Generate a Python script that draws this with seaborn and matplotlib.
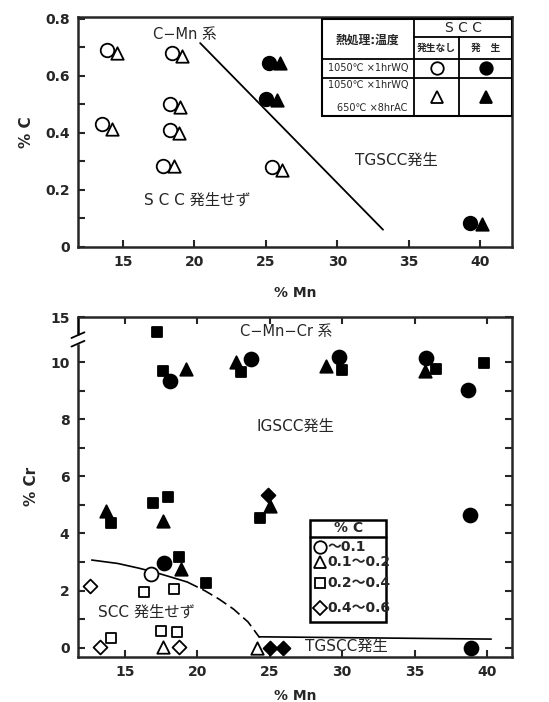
import numpy as np
import matplotlib
matplotlib.use("Agg")
import matplotlib.pyplot as plt
import matplotlib.transforms as mtrans
import seaborn as sns
import pandas as pd

# ---- top panel: C-Mn system (%Mn, %C) ----
wq_none_mn = [13.9, 18.4, 18.3, 13.5, 18.3, 17.8, 25.4]
wq_none_c = [0.69, 0.68, 0.50, 0.43, 0.41, 0.285, 0.28]
ac_none_mn = [14.6, 19.1, 19.0, 14.2, 18.9, 18.6, 26.1]
ac_none_c = [0.68, 0.67, 0.49, 0.415, 0.40, 0.285, 0.27]
wq_scc_mn = [25.2, 25.0, 39.3]
wq_scc_c = [0.645, 0.52, 0.085]
ac_scc_mn = [26.0, 25.8, 40.1]
ac_scc_c = [0.645, 0.515, 0.08]
border_mn = [20.4, 33.2]
border_c = [0.715, 0.06]

# ---- bottom panel: C-Mn-Cr system (%Mn, %Cr) ----
# filled = SCC, open = no SCC; marker = %C class
sq_f_mn = [17.2, 17.6, 23.0, 30.0, 36.5, 39.8, 16.9, 18.0, 14.0, 24.3, 18.7, 20.6]
sq_f_cr = [14.0, 9.71, 9.65, 9.73, 9.77, 9.97, 5.07, 5.28, 4.37, 4.56, 3.18, 2.25]
ci_f_mn = [18.1, 23.7, 29.8, 35.8, 38.7, 38.8, 17.7, 38.9]
ci_f_cr = [9.36, 10.12, 10.2, 10.15, 9.03, 4.64, 2.95, 0.0]
tr_f_mn = [13.7, 19.2, 22.7, 28.9, 35.7, 17.6, 18.9, 25.0]
tr_f_cr = [4.78, 9.77, 10.02, 9.88, 9.68, 4.43, 2.74, 4.95]
di_f_mn = [24.9, 25.0, 25.9]
di_f_cr = [5.36, 0.0, 0.0]
ci_o_mn = [16.8]
ci_o_cr = [2.58]
tr_o_mn = [17.6, 24.15]
tr_o_cr = [0.04, 0.0]
sq_o_mn = [16.3, 18.4, 14.05, 17.5, 18.6]
sq_o_cr = [1.96, 2.04, 0.35, 0.58, 0.56]
di_o_mn = [12.6, 13.3, 18.7]
di_o_cr = [2.16, 0.04, 0.04]

curve_mn = [12.7, 14.5, 16.0, 17.0, 18.0, 19.3]
curve_cr = [3.07, 2.95, 2.78, 2.65, 2.5, 2.3]
dash_mn = [19.3, 20.5, 21.5, 22.5, 23.5, 24.3]
dash_cr = [2.3, 2.0, 1.7, 1.35, 0.9, 0.35]
tg_mn = [24.3, 40.3]
tg_cr = [0.38, 0.3]

c_classes = ["～0.1", "0.1～0.2", "0.2～0.4", "0.4～0.6"]


def cr_to_plot(v):
    # broken axis above 10: 15 sits at the top edge
    v = np.asarray(v, dtype=float)
    return np.where(v <= 10.5, v, 11.57 - (15 - v) * 0.5)


sns.set_style("ticks")
plt.rcParams['font.family'] = ['DejaVu Sans', 'Noto Sans CJK JP']
plt.rcParams['axes.linewidth'] = 1.8

fig = plt.figure(figsize=(5.49, 7.02), dpi=100)
ax1 = fig.add_axes([0.142, 0.648, 0.791, 0.328])
ax2 = fig.add_axes([0.142, 0.064, 0.791, 0.485])

# ================= top =================
top_groups = [
    (wq_none_mn, wq_none_c, "o", "white", 95),
    (ac_none_mn, ac_none_c, "^", "white", 80),
    (wq_scc_mn, wq_scc_c, "o", "black", 95),
    (ac_scc_mn, ac_scc_c, "^", "black", 80),
]
for mn, c, mk, fc, s in top_groups:
    df = pd.DataFrame({"Mn": mn, "C": c})
    sns.scatterplot(data=df, x="Mn", y="C", marker=mk, s=s, color=fc,
                    edgecolor="black", linewidth=1.3, ax=ax1, zorder=3)
sns.lineplot(x=border_mn, y=border_c, color="black", lw=1.3, ax=ax1, sort=False)

ax1.set_xlim(11.85, 42.24)
ax1.set_ylim(-0.001, 0.807)
ax1.set_xticks([15, 20, 25, 30, 35, 40])
ax1.set_yticks([0, 0.2, 0.4, 0.6, 0.8])
ax1.set_yticklabels(["0", "0.2", "0.4", "0.6", "0.8"])
ax1.set_yticks(np.arange(0.1, 0.8, 0.2), minor=True)
ax1.tick_params(direction="in", length=5, width=1.5, labelsize=10, pad=6)
ax1.tick_params(which="minor", direction="in", length=5, width=1.5)
for lab in ax1.get_xticklabels() + ax1.get_yticklabels():
    lab.set_fontweight("bold")
ax1.set_xlabel("% Mn", fontsize=10, fontweight="bold", labelpad=12)
ax1.set_ylabel("% C", fontsize=11, fontweight="bold", labelpad=8)

ax1.text(19.3, 0.745, "C−Mn 系", fontsize=10.5, ha="center", va="center")
ax1.text(20.2, 0.165, "S C C 発生せず", fontsize=11, ha="center", va="center")
ax1.text(34.1, 0.305, "TGSCC発生", fontsize=11, ha="center", va="center")

# heat-treatment table
T = ax1.transAxes
x0, x1, x2, x3 = 0.561, 0.774, 0.878, 1.0
y0, y1, y2, y3, y4 = 0.991, 0.913, 0.817, 0.735, 0.57
ax1.add_patch(plt.Rectangle((x0, y4), x3 - x0, y0 - y4, transform=T,
                            facecolor="white", edgecolor="black", lw=1.5, zorder=4))
lk = dict(transform=T, color="black", lw=1.3, zorder=5)
ax1.plot([x1, x1], [y4, y0], **lk)
ax1.plot([x2, x2], [y4, y1], **lk)
ax1.plot([x1, x3], [y1, y1], **lk)
ax1.plot([x0, x3], [y2, y2], **lk)
ax1.plot([x0, x3], [y3, y3], **lk)
tk = dict(transform=T, ha="center", va="center", zorder=6)
ax1.text((x0 + x1) / 2, 0.9, "熱処理:温度", fontsize=8.5, fontweight="bold", **tk)
ax1.text((x1 + x3) / 2, 0.952, "S C C", fontsize=10, **tk)
ax1.text((x1 + x2) / 2, 0.865, "発生なし", fontsize=7, fontweight="bold", **tk)
ax1.text((x2 + x3) / 2, 0.865, "発　生", fontsize=7, fontweight="bold", **tk)
ax1.text((x0 + x1) / 2, 0.776, "1050℃ ×1hrWQ", fontsize=7, **tk)
ax1.text((x0 + x1) / 2, 0.704, "1050℃ ×1hrWQ", fontsize=7, **tk)
ax1.text((x0 + x1) / 2 + 0.01, 0.603, "650℃ ×8hrAC", fontsize=7, **tk)
mk = dict(transform=T, ls="none", mec="black", mew=1.3, zorder=6)
ax1.plot([(x1 + x2) / 2], [0.776], "o", ms=9, mfc="white", **mk)
ax1.plot([(x2 + x3) / 2], [0.776], "o", ms=9, mfc="black", **mk)
ax1.plot([(x1 + x2) / 2], [0.652], "^", ms=9, mfc="white", **mk)
ax1.plot([(x2 + x3) / 2], [0.652], "^", ms=9, mfc="black", **mk)

# ================= bottom =================
bot_groups = [
    (ci_f_mn, ci_f_cr, "o", "black", 100),
    (tr_f_mn, tr_f_cr, "^", "black", 80),
    (sq_f_mn, sq_f_cr, "s", "black", 60),
    (di_f_mn, di_f_cr, "D", "black", 50),
    (ci_o_mn, ci_o_cr, "o", "white", 100),
    (tr_o_mn, tr_o_cr, "^", "white", 80),
    (sq_o_mn, sq_o_cr, "s", "white", 60),
    (di_o_mn, di_o_cr, "D", "white", 50),
]
for mn, cr, mk2, fc, s in bot_groups:
    df = pd.DataFrame({"Mn": mn, "Cr": cr_to_plot(cr)})
    sns.scatterplot(data=df, x="Mn", y="Cr", marker=mk2, s=s, color=fc,
                    edgecolor="black", linewidth=1.3, ax=ax2, zorder=3)

sns.lineplot(x=curve_mn, y=curve_cr, color="black", lw=1.2, ax=ax2, sort=False)
ax2.plot(dash_mn, dash_cr, color="black", lw=1.2, ls=(0, (7, 3)))
sns.lineplot(x=tg_mn, y=tg_cr, color="black", lw=1.2, ax=ax2, sort=False)

ax2.set_xlim(11.75, 41.75)
ax2.set_ylim(-0.33, 11.6)
ax2.set_xticks([15, 20, 25, 30, 35, 40])
ax2.set_yticks([0, 2, 4, 6, 8, 10, 11.57])
ax2.set_yticklabels(["0", "2", "4", "6", "8", "10", "15"])
ax2.set_yticks([1, 3, 5, 7, 9], minor=True)
ax2.tick_params(direction="in", length=5, width=1.5, labelsize=10, pad=6,
                top=True, right=True, labeltop=False, labelright=False)
ax2.tick_params(which="minor", direction="in", length=5, width=1.5, right=True)
for lab in ax2.get_xticklabels() + ax2.get_yticklabels():
    lab.set_fontweight("bold")
ax2.set_xlabel("% Mn", fontsize=10, fontweight="bold", labelpad=7)
ax2.set_ylabel("% Cr", fontsize=11, fontweight="bold", labelpad=8)

# axis break marks
ax2.spines["left"].set_bounds(-0.33, 10.6)
bt = mtrans.blended_transform_factory(ax2.transAxes, ax2.transData)
ax2.plot([0, 0], [11.0, 11.6], transform=bt, color="black", lw=1.8, clip_on=False)
ax2.plot([-0.015, 0.015], [10.55, 10.75], transform=bt, color="black", lw=1.3, clip_on=False)
ax2.plot([-0.015, 0.015], [10.85, 11.05], transform=bt, color="black", lw=1.3, clip_on=False)

ax2.text(26.1, 11.07, "C−Mn−Cr 系", fontsize=10.5, ha="center", va="center")
ax2.text(26.8, 7.75, "IGSCC発生", fontsize=11, ha="center", va="center")
ax2.text(16.5, 1.26, "SCC 発生せず", fontsize=11, ha="center", va="center")
ax2.text(30.3, 0.04, "TGSCC発生", fontsize=11, ha="center", va="center")

# %C legend box
T2 = ax2.transAxes
lx0, lx1 = 0.535, 0.71
ly0, ly1, ly2 = 0.403, 0.353, 0.104
ax2.add_patch(plt.Rectangle((lx0, ly2), lx1 - lx0, ly0 - ly2, transform=T2,
                            facecolor="white", edgecolor="black", lw=1.8, zorder=4))
ax2.plot([lx0, lx1], [ly1, ly1], transform=T2, color="black", lw=1.8, zorder=5)
ax2.text((lx0 + lx1) / 2, 0.378, "% C", fontsize=10, fontweight="bold",
         transform=T2, ha="center", va="center", zorder=6)
leg_markers = ["o", "^", "s", "D"]
leg_y = [0.324, 0.280, 0.217, 0.143]
leg_ms = [9, 9, 7.5, 7.5]
for m, yy, ms, lab in zip(leg_markers, leg_y, leg_ms, c_classes):
    ax2.plot([0.558], [yy], m, ms=ms, mfc="white", mec="black", mew=1.3,
             transform=T2, zorder=6)
    ax2.text(0.574, yy, lab, fontsize=10, fontweight="bold", transform=T2,
             ha="left", va="center", zorder=6)

fig.savefig("out.png", dpi=100)
